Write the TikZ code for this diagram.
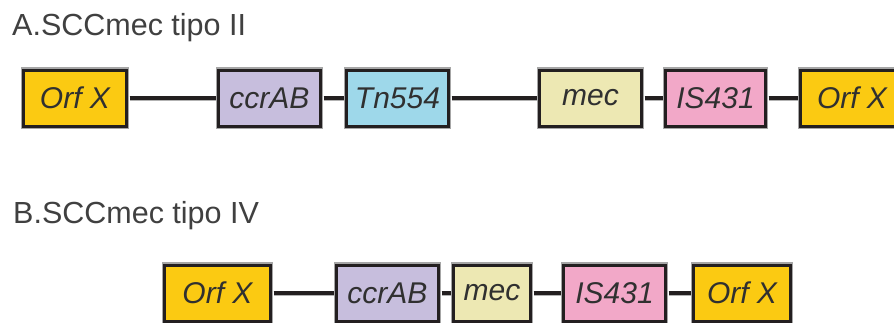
\documentclass[tikz,border=0pt]{standalone}
\usepackage{fontspec}
\setmainfont{Liberation Sans}
\definecolor{orfcol}{HTML}{FBCA12}
\definecolor{ccrcol}{HTML}{C7BEDD}
\definecolor{tncol}{HTML}{9ED8EA}
\definecolor{meccol}{HTML}{EDE8B3}
\definecolor{iscol}{HTML}{F2A8C8}
\definecolor{edgecol}{HTML}{231F20}
\definecolor{labelcol}{HTML}{303030}
\definecolor{titlecol}{HTML}{404040}
\tikzset{
  gene/.style={draw=edgecol, line width=3pt, minimum height=56pt, inner sep=0pt,
    font=\fontsize{30}{30}\selectfont\itshape, text=labelcol,
    preaction={draw=black!35, line width=5.5pt}},
  link/.style={draw=edgecol, line width=3.5pt,
    preaction={draw=black!30, line width=5pt}},
  heading/.style={anchor=base west, inner sep=0pt, text=titlecol,
    font=\fontsize{30.5}{30.5}\selectfont},
}
\begin{document}
\begin{tikzpicture}[x=1pt,y=-1pt]
\useasboundingbox (0,0) rectangle (894,322);
\clip (0,0) rectangle (894,322);
\fill[white] (0,0) rectangle (894,322);

% headings
\node[heading] (ta) at (12,35) {A.SCCmec tipo II};
\node[heading] (tb) at (13,223) {B.SCCmec tipo IV};

% type II cassette
\node[gene, fill=orfcol, minimum width=103pt] (a1) at (75,98) {Orf X};
\node[gene, fill=ccrcol, minimum width=102pt] (a2) at (269.5,98) {ccrAB};
\node[gene, fill=tncol,  minimum width=102pt] (a3) at (397.5,98) {Tn554};
\node[gene, fill=meccol, minimum width=102pt] (a4) at (590.5,98) {mec};
\node[gene, fill=iscol,  minimum width=100pt] (a5) at (715.5,98) {IS431};
\node[gene, fill=orfcol, minimum width=103pt] (a6) at (852,98) {Orf X};

% type IV cassette
\node[gene, fill=orfcol, minimum width=106pt] (b1) at (217.5,293) {Orf X};
\node[gene, fill=ccrcol, minimum width=102pt] (b2) at (387.5,293) {ccrAB};
\node[gene, fill=meccol, minimum width=77pt]  (b3) at (492,293) {mec};
\node[gene, fill=iscol,  minimum width=102pt] (b4) at (614.5,293) {IS431};
\node[gene, fill=orfcol, minimum width=97pt]  (b5) at (742,293) {Orf X};

% connecting DNA between neighbouring genes
\foreach \u/\v in {a1/a2,a2/a3,a3/a4,a4/a5,a5/a6,b1/b2,b2/b3,b3/b4,b4/b5}
  \draw[link] ([xshift=1.5pt]\u.east) -- ([xshift=-1.5pt]\v.west);
\end{tikzpicture}
\end{document}
